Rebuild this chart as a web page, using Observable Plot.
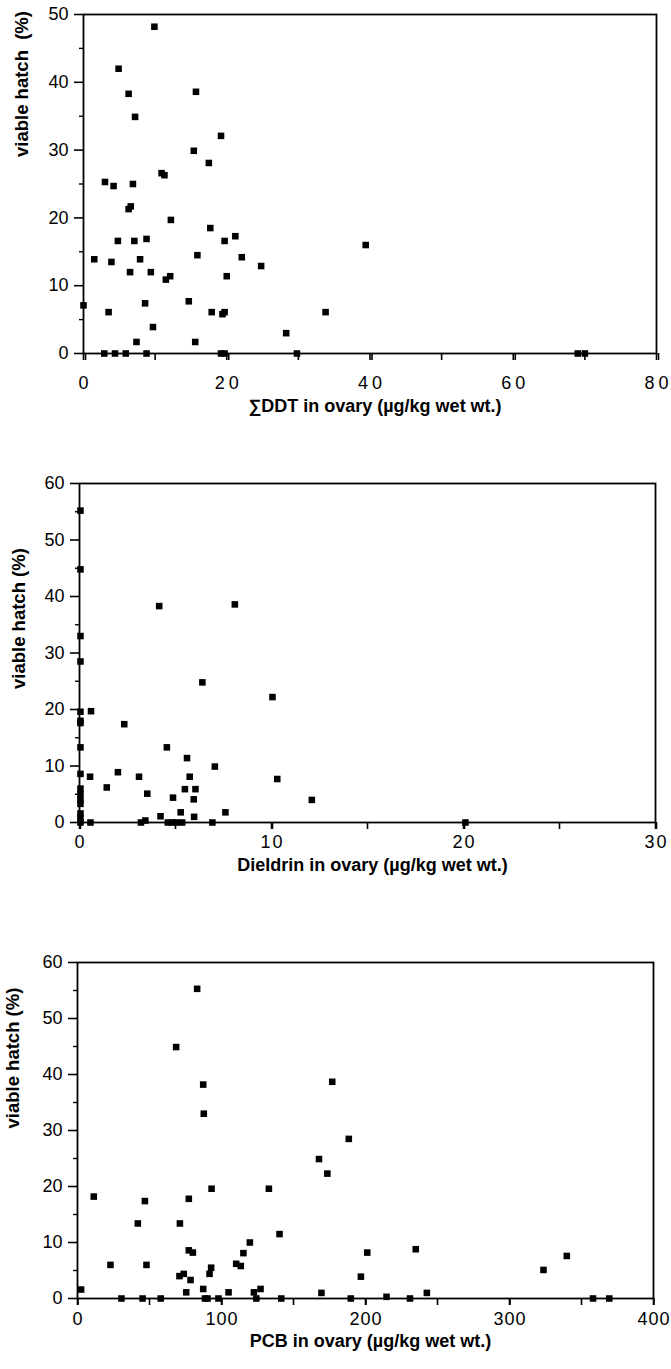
<!DOCTYPE html>
<html><head><meta charset="utf-8">
<script src="https://cdn.jsdelivr.net/npm/d3@7"></script>
<script src="https://cdn.jsdelivr.net/npm/@observablehq/plot@0.6"></script>
<style>body{margin:0;background:#fff}#chart{width:671px}#chart svg{display:block}</style>
</head><body><div id="chart"></div>
<script>
// Panel 1: ΣDDT
const ddtX = [9.9,4.9,6.3,15.7,7.2,19.2,15.4,17.5,10.9,11.3,3.0,4.2,6.9,6.3,6.6,12.2,17.7,4.8,7.1,8.8,19.7,21.2,1.5,3.9,7.9,15.9,22.1,24.8,6.5,9.4,11.5,12.1,20.0,39.4,0,3.5,8.6,14.7,17.9,19.4,19.7,33.8,9.7,7.4,15.6,28.3,2.9,4.4,5.9,8.8,19.2,19.7,29.8,69.0,70.0];
const ddtY = [48.2,42.0,38.3,38.6,34.9,32.1,29.9,28.1,26.6,26.3,25.3,24.7,25.0,21.3,21.7,19.7,18.5,16.6,16.6,16.9,16.6,17.3,13.9,13.5,13.9,14.5,14.2,12.9,12.0,12.0,10.9,11.4,11.4,16.0,7.1,6.1,7.4,7.7,6.1,5.8,6.1,6.1,3.9,1.7,1.7,3.0,0,0,0,0,0,0,0,0,0];
// Panel 2: Dieldrin
const dieldrinX = [0.05,0.05,0.05,0.05,0.05,0.05,0.05,0.05,0.05,0.05,0.05,0.05,0.05,0.05,0.05,0.05,0.6,0.55,0.57,1.42,2.0,2.33,3.1,3.53,3.2,3.43,4.15,4.22,4.55,4.87,4.6,4.85,5.05,5.27,5.35,5.6,5.74,5.49,6.04,5.95,5.97,6.4,6.92,7.05,7.6,8.09,10.05,10.3,12.1,20.1];
const dieldrinY = [55.2,44.8,33.0,28.5,19.6,18.0,17.6,13.3,8.6,6.0,5.0,4.0,3.3,1.6,0.8,0,19.7,8.1,0,6.2,8.9,17.4,8.1,5.1,0,0.35,38.3,1.1,13.3,4.4,0,0,0,1.8,0,11.4,8.1,5.9,5.9,4.1,1.0,24.8,0,9.9,1.8,38.6,22.2,7.7,4.0,0];
// Panel 3: PCB
const pcbX = [83.1,68.5,87.3,87.7,11.3,46.8,77.3,93.1,132.9,41.9,71.1,140.3,119.7,77.3,80.1,115.2,22.9,47.9,110.2,113.4,92.8,91.7,73.8,70.8,78.5,2.5,75.5,87.3,104.9,122.5,127.1,169.4,176.9,188.4,167.7,173.5,201.2,234.9,196.8,323.6,339.8,242.6,214.6,30.5,45.2,57.8,88.5,90.3,97.9,124.2,141.5,189.8,230.9,358,369.3];
const pcbY = [55.3,44.9,38.2,33.0,18.2,17.4,17.8,19.6,19.6,13.4,13.4,11.5,10.0,8.6,8.2,8.1,6.0,6.0,6.2,5.8,5.5,4.4,4.4,4.0,3.3,1.6,1.1,1.7,1.1,1.1,1.7,1.0,38.7,28.5,24.9,22.3,8.2,8.8,3.9,5.1,7.6,1.0,0.3,0,0,0,0,0,0,0,0,0,0,0,0];

// Axis ticks / labels
const ddtXLabels = [0,20,40,60,80], ddtXTicks = [0,10,20,30,40,50,60,70,80];
const ddtYLabels = [0,10,20,30,40,50], ddtYMinor = [5,15,25,35,45];
const dieldrinXLabels = [0,10,20,30], dieldrinXTicks = [0,5,10,15,20,25,30];
const hatchYLabels = [0,10,20,30,40,50,60], hatchYMinor = [5,15,25,35,45,55];
const pcbXLabels = [0,100,200,300,400], pcbXTicks = [0,50,100,150,200,250,300,350,400];

const yTitle1 = "viable hatch  (%)", yTitle = "viable hatch (%)";
const xTitles = ["\u2211DDT in ovary (\u00b5g/kg wet wt.)", "Dieldrin in ovary (\u00b5g/kg wet wt.)", "PCB in ovary (\u00b5g/kg wet wt.)"];

const FONT = "'Liberation Sans', Arial, Helvetica, sans-serif";

function panel(o) {
  const data = o.xs.map((x, i) => ({x, y: o.ys[i]}));
  const p = Plot.plot({
    width: 671, height: o.height,
    marginTop: o.m[0], marginRight: o.m[1], marginBottom: o.m[2], marginLeft: o.m[3],
    style: {fontFamily: FONT, fontSize: "18px", background: "white", color: "black", overflow: "visible"},
    x: {domain: o.xDomain, axis: null},
    y: {domain: o.yDomain, axis: null},
    marks: [
      Plot.axisX({ticks: o.xTicks, tickSize: 7, strokeWidth: 1.6, tickFormat: () => "", label: null}),
      Plot.axisX({ticks: o.xLabels, tickSize: 7, strokeWidth: 1.6, tickPadding: o.xPad, fontSize: 18, dx: o.ls / 2, label: null}),
      Plot.axisY({ticks: o.yMinor, tickSize: 4, strokeWidth: 1.4, tickFormat: () => "", label: null}),
      Plot.axisY({ticks: o.yLabels, tickSize: 9, strokeWidth: 1.6, tickPadding: 6, fontSize: 18, label: null}),
      Plot.frame({stroke: "black", strokeWidth: 1.8}),
      Plot.dot(data, {x: "x", y: "y", symbol: "square", r: 3.7, fill: "black", stroke: "none"}),
      Plot.text([o.xTitle], {frameAnchor: "bottom", dy: o.xTitleDy, dx: 5, fontWeight: "bold", fontSize: 18, fill: "black"}),
      Plot.text([o.yTitle], {frameAnchor: "left", rotate: -90, dx: o.yTitleDx, dy: o.yTitleDy, fontWeight: "bold", fontSize: 18.5, fill: "black"})
    ]
  });
  p.querySelectorAll('g[aria-label="x-axis tick label"] text').forEach(t => t.style.letterSpacing = o.ls + "px");
  document.getElementById("chart").appendChild(p);
}

panel({xs: ddtX, ys: ddtY, xDomain: [0,80], yDomain: [0,50], xTicks: ddtXTicks, xLabels: ddtXLabels,
  yMinor: ddtYMinor, yLabels: ddtYLabels, height: 423, m: [14,15,70,83], xPad: 16, ls: 4,
  xTitle: xTitles[0], yTitle: yTitle1, xTitleDy: 58, yTitleDx: -61, yTitleDy: -27});
panel({xs: dieldrinX, ys: dieldrinY, xDomain: [0,30], yDomain: [0,60], xTicks: dieldrinXTicks, xLabels: dieldrinXLabels,
  yMinor: hatchYMinor, yLabels: hatchYLabels, height: 478, m: [60,16,79,79], xPad: 6, ls: 2,
  xTitle: xTitles[1], yTitle: yTitle, xTitleDy: 48, yTitleDx: -60, yTitleDy: 36});
panel({xs: pcbX, ys: pcbY, xDomain: [0,400], yDomain: [0,60], xTicks: pcbXTicks, xLabels: pcbXLabels,
  yMinor: hatchYMinor, yLabels: hatchYLabels, height: 468, m: [61,18,71,77], xPad: 7, ls: 1,
  xTitle: xTitles[2], yTitle: yTitle, xTitleDy: 48, yTitleDx: -64, yTitleDy: -2});
</script>
</body></html>
